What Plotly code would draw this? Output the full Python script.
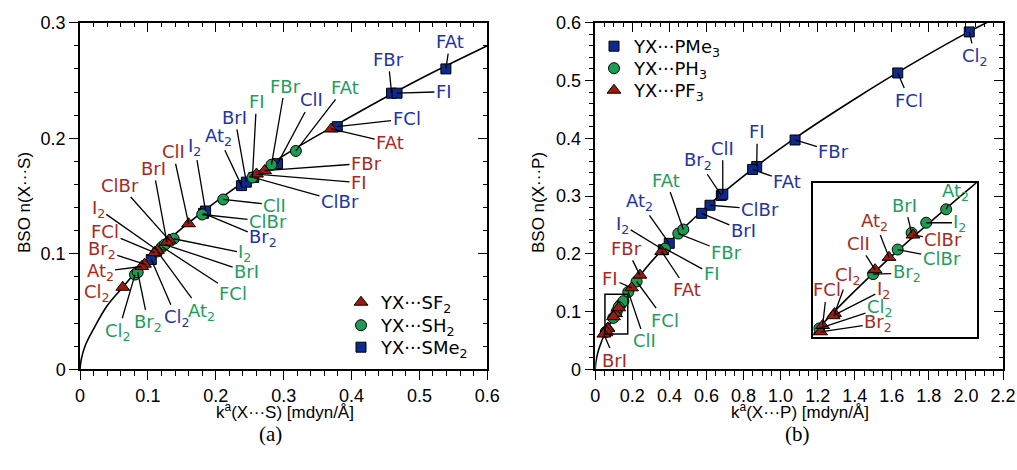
import plotly.graph_objects as go

W, H = 1017, 470

# ---------------- data ----------------
names = ["Cl2", "Br2", "I2", "At2", "FCl", "FBr", "FI", "FAt", "ClBr", "ClI", "BrI"]

# panel (a): YX...SY2
a_sf2_k = [0.063, 0.095, 0.114, 0.091, 0.110, 0.272, 0.260, 0.370, 0.131, 0.160, 0.128]
a_sf2_n = [0.071, 0.091, 0.103, 0.089, 0.101, 0.172, 0.169, 0.208, 0.112, 0.126, 0.110]
a_sh2_k = [0.081, 0.085, 0.138, 0.114, 0.121, 0.282, 0.254, 0.318, 0.180, 0.211, 0.125]
a_sh2_n = [0.082, 0.084, 0.113, 0.102, 0.106, 0.177, 0.166, 0.189, 0.134, 0.147, 0.108]
a_sme2_k = [0.105, 0.182, 0.185, 0.238, 0.379, 0.459, 0.467, 0.539, 0.256, 0.291, 0.245]
a_sme2_n = [0.095, 0.135, 0.137, 0.159, 0.210, 0.239, 0.239, 0.260, 0.166, 0.178, 0.162]
a_fit_k = [0, 0.002, 0.008, 0.02, 0.04, 0.063, 0.1, 0.15, 0.2, 0.3, 0.4, 0.5, 0.6]
a_fit_n = [0, 0.009, 0.021, 0.035, 0.055, 0.071, 0.096, 0.122, 0.145, 0.185, 0.219, 0.251, 0.280]

# panel (b): YX...PY3
b_pme3_k = [2.018, 0.680, 0.367, 0.399, 1.632, 1.078, 0.871, 0.849, 0.619, 0.688, 0.574]
b_pme3_n = [0.584, 0.301, 0.207, 0.218, 0.513, 0.397, 0.351, 0.346, 0.284, 0.303, 0.270]
b_ph3_k = [0.0565, 0.097, 0.137, 0.152, 0.223, 0.448, 0.376, 0.475, 0.1155, 0.178, 0.126]
b_ph3_n = [0.0647, 0.089, 0.112, 0.118, 0.152, 0.235, 0.209, 0.242, 0.100, 0.134, 0.1075]
b_pf3_k = [0.068, 0.0575, 0.067, 0.109, 0.059, 0.241, 0.196, 0.358, 0.127, 0.0985, 0.046]
b_pf3_n = [0.0714, 0.0632, 0.0704, 0.0965, 0.066, 0.163, 0.141, 0.204, 0.1065, 0.091, 0.061]
b_fit_k = [0, 0.002, 0.008, 0.02, 0.052, 0.1, 0.175, 0.25, 0.4, 0.6, 0.85, 1.1, 1.4, 1.7, 2.02, 2.2]
b_fit_n = [0, 0.009, 0.021, 0.036, 0.062, 0.091, 0.130, 0.166, 0.220, 0.281, 0.347, 0.405, 0.468, 0.527, 0.585, 0.614]

inset_k = [0.052, 0.175]
inset_n = [0.061, 0.130]

a_xtick_vals = [0, 0.1, 0.2, 0.3, 0.4, 0.5, 0.6]
a_xtick_text = ["0", "0.1", "0.2", "0.3", "0.4", "0.5", "0.6"]
a_ytick_vals = [0, 0.1, 0.2, 0.3]
a_ytick_text = ["0", "0.1", "0.2", "0.3"]
b_xtick_vals = [0, 0.2, 0.4, 0.6, 0.8, 1.0, 1.2, 1.4, 1.6, 1.8, 2.0, 2.2]
b_xtick_text = ["0", "0.2", "0.4", "0.6", "0.8", "1.0", "1.2", "1.4", "1.6", "1.8", "2.0", "2.2"]
b_ytick_vals = [0, 0.1, 0.2, 0.3, 0.4, 0.5, 0.6]
b_ytick_text = ["0", "0.1", "0.2", "0.3", "0.4", "0.5", "0.6"]

# ---------------- label placement (text centres, data coords) ----------------
a_lab_sme2 = {"FAt": (0.545, 0.2836), "FBr": (0.454, 0.2683), "FI": (0.536, 0.2403),
              "FCl": (0.481, 0.2167), "ClBr": (0.383, 0.1451), "ClI": (0.341, 0.2331),
              "BrI": (0.228, 0.2181), "At2": (0.204, 0.2013), "I2": (0.169, 0.1927),
              "Br2": (0.270, 0.1134), "Cl2": (0.1424, 0.0441)}
a_lab_sf2 = {"FAt": (0.457, 0.1961), "FBr": (0.422, 0.1783), "FI": (0.411, 0.1615),
             "ClI": (0.137, 0.1883), "BrI": (0.108, 0.174), "ClBr": (0.059, 0.1595),
             "I2": (0.027, 0.139), "FCl": (0.037, 0.119), "Br2": (0.032, 0.103),
             "At2": (0.0295, 0.0845), "Cl2": (0.0246, 0.0658)}
a_lab_sh2 = {"FAt": (0.390, 0.2441), "FBr": (0.302, 0.2452), "FI": (0.260, 0.2316),
             "ClI": (0.287, 0.1422), "ClBr": (0.277, 0.1278), "I2": (0.243, 0.1004),
             "BrI": (0.2455, 0.0845), "FCl": (0.226, 0.0658), "At2": (0.179, 0.0499),
             "Br2": (0.1006, 0.0398), "Cl2": (0.0565, 0.0325)}
a_no_leader = {("sf2", "Cl2")}

b_lab_pme3 = {"Cl2": (2.049, 0.541), "FCl": (1.695, 0.466), "FBr": (1.288, 0.3767),
              "FAt": (1.036, 0.3247), "FI": (0.874, 0.4113), "ClI": (0.6875, 0.3825),
              "Br2": (0.556, 0.361), "ClBr": (0.889, 0.277), "BrI": (0.799, 0.240),
              "At2": (0.241, 0.290), "I2": (0.148, 0.2498)}
b_lab_ph3 = {"FAt": (0.3815, 0.3277), "FBr": (0.709, 0.2018), "FI": (0.628, 0.165),
             "FCl": (0.376, 0.0853), "ClI": (0.268, 0.049)}
b_lab_pf3 = {"FAt": (0.4965, 0.1373), "FBr": (0.169, 0.2094), "FI": (0.079, 0.1575),
             "BrI": (0.106, 0.016)}
i_lab_ph3 = {"At2": (0.1587, 0.1259), "BrI": (0.121, 0.1199), "I2": (0.1624, 0.112),
             "ClBr": (0.1487, 0.0961), "Br2": (0.1223, 0.0894), "Cl2": (0.1022, 0.0737)}
i_lab_pf3 = {"ClBr": (0.1499, 0.1043), "At2": (0.0984, 0.1125), "ClI": (0.0859, 0.1028),
             "Cl2": (0.0783, 0.0882), "FCl": (0.0621, 0.0819), "I2": (0.1047, 0.0819),
             "Br2": (0.1009, 0.067)}

# ---------------- styles ----------------
RED_T, GRN_T, BLU_T = "#a82a1f", "#1f9d5b", "#2334a6"
RED_M, GRN_M, BLU_M = "#9c1a0e", "#1b9c52", "#0d2a8e"
LBL_FONT = "DejaVu Sans"
AX_FONT = "Liberation Sans, Arial, sans-serif"
LSZ = 18
TSZ = 18
TITLE_SZ = 17

A_DX = [80 / W, 487.3 / W]
B_DX = [595.3 / W, 1003 / W]
DY = [1 - 369.3 / H, 1 - 22.7 / H]
I_DX = [813.3 / W, 976.7 / W]
I_DY = [1 - 336.7 / H, 1 - 182.5 / H]


def fmt(n):
    return n[:-1] + "<sub>2</sub>" if n.endswith("2") else n


fig = go.Figure()


def add_series(k, n, name, sym, col, size, xa, ya, legend, show):
    fig.add_trace(go.Scatter(
        x=k, y=n, mode="markers", name=name, xaxis=xa, yaxis=ya, legend=legend,
        showlegend=show, cliponaxis=True,
        marker=dict(symbol=sym, color=col, size=size, line=dict(color="black", width=1))))


def add_fit(k, n, xa, ya):
    fig.add_trace(go.Scatter(x=k, y=n, mode="lines", line=dict(color="black", width=1.6, shape="spline"),
                             xaxis=xa, yaxis=ya, showlegend=False, hoverinfo="skip"))


# panel a
add_fit(a_fit_k, a_fit_n, "x", "y")
add_series(a_sme2_k, a_sme2_n, "YX···SMe<sub>2</sub>", "square", BLU_M, 10, "x", "y", "legend3", True)
add_series(a_sh2_k, a_sh2_n, "YX···SH<sub>2</sub>", "circle", GRN_M, 11, "x", "y", "legend2", True)
add_series(a_sf2_k, a_sf2_n, "YX···SF<sub>2</sub>", "triangle-up", RED_M, 12, "x", "y", "legend", True)
# panel b
add_fit(b_fit_k, b_fit_n, "x2", "y2")
add_series(b_pme3_k, b_pme3_n, "YX···PMe<sub>3</sub>", "square", BLU_M, 10, "x2", "y2", "legend4", True)
add_series(b_ph3_k, b_ph3_n, "YX···PH<sub>3</sub>", "circle", GRN_M, 11, "x2", "y2", "legend5", True)
add_series(b_pf3_k, b_pf3_n, "YX···PF<sub>3</sub>", "triangle-up", RED_M, 12, "x2", "y2", "legend6", True)
# inset
add_fit(b_fit_k, b_fit_n, "x3", "y3")
add_series(b_pme3_k, b_pme3_n, "", "square", BLU_M, 10, "x3", "y3", "legend4", False)
add_series(b_ph3_k, b_ph3_n, "", "circle", GRN_M, 11, "x3", "y3", "legend5", False)
add_series(b_pf3_k, b_pf3_n, "", "triangle-up", RED_M, 12, "x3", "y3", "legend6", False)
# empty traces that register the inside-tick overlay axes
for xa, ya in (("x4", "y4"), ("x5", "y5")):
    fig.add_trace(go.Scatter(x=[None], y=[None], xaxis=xa, yaxis=ya, showlegend=False, hoverinfo="skip"))

annotations = []


def leaders(labels, ks, ns, color, xref, yref, series="", no_leader=()):
    for nm, (tx, ty) in labels.items():
        i = names.index(nm)
        if (series, nm) in no_leader:
            annotations.append(dict(x=tx, y=ty, xref=xref, yref=yref, text=fmt(nm), showarrow=False,
                                    xanchor="center", yanchor="middle",
                                    font=dict(family=LBL_FONT, size=LSZ, color=color)))
        else:
            annotations.append(dict(x=ks[i], y=ns[i], ax=tx, ay=ty, xref=xref, yref=yref,
                                    axref=xref, ayref=yref, text=fmt(nm), showarrow=True,
                                    arrowhead=0, arrowwidth=1.3, arrowcolor="black", standoff=0,
                                    font=dict(family=LBL_FONT, size=LSZ, color=color)))


leaders(a_lab_sme2, a_sme2_k, a_sme2_n, BLU_T, "x", "y")
leaders(a_lab_sf2, a_sf2_k, a_sf2_n, RED_T, "x", "y", "sf2", a_no_leader)
leaders(a_lab_sh2, a_sh2_k, a_sh2_n, GRN_T, "x", "y")
leaders(b_lab_pme3, b_pme3_k, b_pme3_n, BLU_T, "x2", "y2")
leaders(b_lab_ph3, b_ph3_k, b_ph3_n, GRN_T, "x2", "y2")
leaders(b_lab_pf3, b_pf3_k, b_pf3_n, RED_T, "x2", "y2")
leaders(i_lab_ph3, b_ph3_k, b_ph3_n, GRN_T, "x3", "y3")
leaders(i_lab_pf3, b_pf3_k, b_pf3_n, RED_T, "x3", "y3")

# axis titles and captions
tfont = dict(family=AX_FONT, size=TITLE_SZ, color="black")
cfont = dict(family="Liberation Serif, serif", size=21, color="black")


def paper_text(px, py, text, font, angle=0):
    return dict(x=px / W, y=1 - py / H, xref="paper", yref="paper", showarrow=False,
                xanchor="center", yanchor="middle", textangle=angle, text=text, font=font)


annotations += [
    paper_text(285, 411, "k<sup>a</sup>(X···S) [mdyn/Å]", tfont),
    paper_text(800, 411, "k<sup>a</sup>(X···P) [mdyn/Å]", tfont),
    paper_text(24, 203, "BSO n(X···S)", tfont, -90),
    paper_text(538, 203, "BSO n(X···P)", tfont, -90),
    paper_text(270, 434, "(a)", cfont),
    paper_text(797, 434, "(b)", cfont),
]


def axis(domain, rng, anchor, tv, tt, minor_dt, side=None, overlay=None, inside=False):
    d = dict(domain=domain, range=rng, anchor=anchor, showgrid=False, zeroline=False, automargin=False,
             tickmode="array", tickvals=tv, ticktext=tt,
             ticks="inside" if inside else "outside", ticklen=9, tickwidth=1.3, tickcolor="black",
             tickfont=dict(family=AX_FONT, size=TSZ, color="black"),
             minor=dict(tickmode="linear", tick0=0, dtick=minor_dt, ticks="inside" if inside else "outside",
                        ticklen=4.5, tickwidth=1.2, tickcolor="black", showgrid=False))
    if inside:
        d.update(showline=False, showticklabels=False, side=side, overlaying=overlay)
    else:
        d.update(showline=True, linecolor="black", linewidth=1.5, mirror=True)
    return d


def legend_at(px_left, py_top):
    return dict(x=px_left / W, y=1 - py_top / H, xanchor="left", yanchor="top",
                bgcolor="rgba(0,0,0,0)", font=dict(family=LBL_FONT, size=LSZ, color="black"),
                itemclick=False, itemdoubleclick=False)


fig.update_layout(
    width=W, height=H, margin=dict(l=0, r=0, t=0, b=0, autoexpand=False),
    paper_bgcolor="white", plot_bgcolor="white",
    xaxis=axis(A_DX, [0, 0.6], "y", a_xtick_vals, a_xtick_text, 0.02),
    yaxis=axis(DY, [0, 0.3], "x", a_ytick_vals, a_ytick_text, 0.02),
    xaxis2=axis(B_DX, [0, 2.2], "y2", b_xtick_vals, b_xtick_text, 0.05),
    yaxis2=axis(DY, [0, 0.6], "x2", b_ytick_vals, b_ytick_text, 0.02),
    xaxis4=axis(A_DX, [0, 0.6], "y4", a_xtick_vals, a_xtick_text, 0.02, "top", "x", True),
    yaxis4=axis(DY, [0, 0.3], "x4", a_ytick_vals, a_ytick_text, 0.02, "right", "y", True),
    xaxis5=axis(B_DX, [0, 2.2], "y5", b_xtick_vals, b_xtick_text, 0.05, "top", "x2", True),
    yaxis5=axis(DY, [0, 0.6], "x5", b_ytick_vals, b_ytick_text, 0.02, "right", "y2", True),
    xaxis3=dict(domain=I_DX, range=inset_k, anchor="y3", showgrid=False, zeroline=False, automargin=False,
                showticklabels=False, ticks="", showline=True, linecolor="black", linewidth=1.5, mirror=True),
    yaxis3=dict(domain=I_DY, range=inset_n, anchor="x3", showgrid=False, zeroline=False, automargin=False,
                showticklabels=False, ticks="", showline=True, linecolor="black", linewidth=1.5, mirror=True),
    shapes=[dict(type="rect", xref="x2", yref="y2", x0=inset_k[0], x1=inset_k[1], y0=inset_n[0], y1=inset_n[1],
                 line=dict(color="black", width=1.5))],
    annotations=annotations,
    legend=legend_at(341, 284),
    legend2=legend_at(341, 307),
    legend3=legend_at(341, 329),
    legend4=legend_at(594, 28),
    legend5=legend_at(594, 50),
    legend6=legend_at(594, 72),
    showlegend=True,
)

fig.write_html("out.html")
